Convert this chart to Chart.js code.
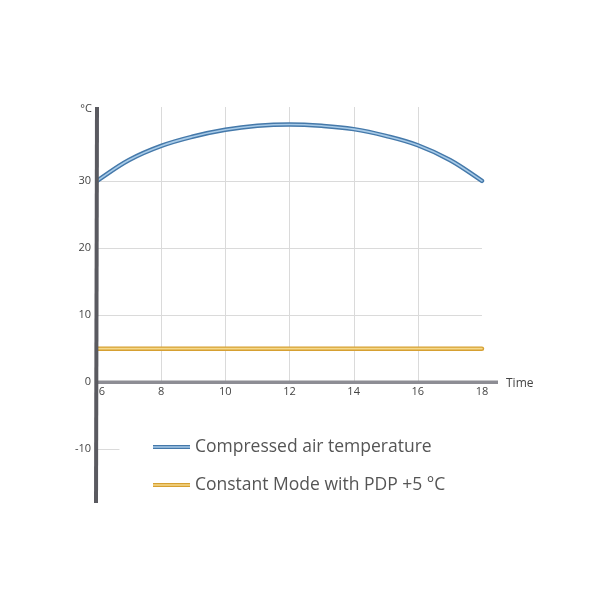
<!DOCTYPE html>
<html>
<head>
<meta charset="utf-8">
<script src="https://cdn.jsdelivr.net/npm/chart.js@4.4.1/dist/chart.umd.min.js"></script>
<style>
    html, body { margin: 0; padding: 0; background: #fff; }
    #wrap { width: 600px; height: 600px; position: relative; }
</style>
</head>
<body>
<div id="wrap"><canvas id="chart" width="600" height="600"></canvas></div>
<script>
/* ── Données ───────────────────────────────────────────────── */

const hours      = [6, 7, 8, 9, 10, 11, 12, 13, 14, 15, 16, 17, 18];
const airTemp    = [30, 33.1, 35.2, 36.6, 37.6, 38.2, 38.4, 38.2, 37.7, 36.7, 35.3, 33.1, 30];
const pdpHours   = [6, 18];
const pdpTemp    = [5, 5];
const xTicks     = [6, 8, 10, 12, 14, 16, 18];
const yTicks     = [-10, 0, 10, 20, 30];
const xGrid      = [8, 10, 12, 14, 16];
const yGrid      = [10, 20, 30];
const seriesNames = ["Compressed air temperature", "Constant Mode with PDP +5 °C"];

const BLUE_DARK   = "#4579aa";
const BLUE_LIGHT  = "#a8cbe8";
const GOLD_DARK   = "#d6a032";
const GOLD_LIGHT  = "#f5d98c";
const TEXT        = "#444";

function pts(xs, ys) {
    return xs.map((x, i) => ({ x, y: ys[i] }));
}

/* ── Axes, grille et légende dessinés à la main ────────────── */

const axesPlugin = {
    id: "axesPlugin",
    beforeDatasetsDraw(chart) {
        const { ctx, scales: { x, y } } = chart;
        const top = chart.chartArea.top;
        ctx.save();
        ctx.strokeStyle = "#dadada";
        ctx.lineWidth = 1;
        xGrid.forEach((v) => {
            const px = Math.round(x.getPixelForValue(v)) + 0.5;
            ctx.beginPath();
            ctx.moveTo(px, top);
            ctx.lineTo(px, y.getPixelForValue(0));
            ctx.stroke();
        });
        yGrid.forEach((v) => {
            const py = Math.round(y.getPixelForValue(v)) + 0.5;
            ctx.beginPath();
            ctx.moveTo(x.getPixelForValue(6), py);
            ctx.lineTo(x.getPixelForValue(18), py);
            ctx.stroke();
        });
        // petit repère à -10
        const p10 = Math.round(y.getPixelForValue(-10)) + 0.5;
        ctx.beginPath();
        ctx.moveTo(x.getPixelForValue(6), p10);
        ctx.lineTo(x.getPixelForValue(6.7), p10);
        ctx.stroke();
        ctx.restore();
    },
    afterDatasetsDraw(chart) {
        const { ctx, chartArea, scales: { x, y } } = chart;
        const x0 = x.getPixelForValue(6);
        const y0 = y.getPixelForValue(0);
        ctx.save();

        // axe X
        ctx.strokeStyle = "#8d8d94";
        ctx.lineWidth = 3.5;
        ctx.beginPath();
        ctx.moveTo(x0, y0);
        ctx.lineTo(chartArea.right, y0);
        ctx.stroke();

        // axe Y
        ctx.strokeStyle = "#5a5a60";
        ctx.lineWidth = 4;
        ctx.beginPath();
        ctx.moveTo(x0, chartArea.top);
        ctx.lineTo(x0 - 1, chartArea.bottom);
        ctx.stroke();

        // libellés
        ctx.fillStyle = TEXT;
        ctx.font = "11px 'Open Sans', sans-serif";
        ctx.textAlign = "right";
        ctx.textBaseline = "middle";
        yTicks.forEach((v) => ctx.fillText(String(v), x0 - 6, y.getPixelForValue(v)));
        ctx.fillText("°C", x0 - 5, chartArea.top + 2);

        ctx.textAlign = "center";
        ctx.textBaseline = "top";
        xTicks.forEach((v) => {
            const px = v === 6 ? x.getPixelForValue(v) + 5 : x.getPixelForValue(v);
            ctx.fillText(String(v), px, y0 + 4);
        });

        ctx.font = "12px 'Open Sans', sans-serif";
        ctx.textAlign = "left";
        ctx.textBaseline = "middle";
        ctx.fillText("Time", chartArea.right + 8, y0 + 1);

        // légende
        const legend = [
            { dark: BLUE_DARK, light: BLUE_LIGHT, y: 447 },
            { dark: GOLD_DARK, light: GOLD_LIGHT, y: 485 },
        ];
        ctx.font = "17.5px 'Open Sans', sans-serif";
        legend.forEach((item, i) => {
            ctx.lineCap = "butt";
            ctx.strokeStyle = item.dark;
            ctx.lineWidth = 4;
            ctx.beginPath();
            ctx.moveTo(153, item.y);
            ctx.lineTo(190, item.y);
            ctx.stroke();
            ctx.strokeStyle = item.light;
            ctx.lineWidth = 1.5;
            ctx.beginPath();
            ctx.moveTo(153, item.y);
            ctx.lineTo(190, item.y);
            ctx.stroke();
            ctx.fillStyle = "#555";
            ctx.fillText(seriesNames[i], 195, item.y);
        });

        ctx.restore();
    },
};

/* ── Graphique ─────────────────────────────────────────────── */

function lineSet(data, color, width, tension) {
    return {
        data,
        borderColor: color,
        borderWidth: width,
        pointRadius: 0,
        tension,
        borderCapStyle: "round",
        fill: false,
    };
}

new Chart(document.getElementById("chart").getContext("2d"), {
    type: "line",
    data: {
        datasets: [
            lineSet(pts(hours, airTemp), BLUE_LIGHT, 1.6, 0.4),
            lineSet(pts(hours, airTemp), BLUE_DARK, 4.5, 0.4),
            lineSet(pts(pdpHours, pdpTemp), GOLD_LIGHT, 1.6, 0),
            lineSet(pts(pdpHours, pdpTemp), GOLD_DARK, 4.5, 0),
        ],
    },
    options: {
        responsive: false,
        animation: false,
        layout: { padding: { left: 97, right: 102, top: 107, bottom: 97 } },
        plugins: { legend: { display: false }, tooltip: { enabled: false } },
        scales: {
            x: { type: "linear", min: 6, max: 18.5, display: false },
            y: { type: "linear", min: -18, max: 41, display: false },
        },
    },
    plugins: [axesPlugin],
});
</script>
</body>
</html>
